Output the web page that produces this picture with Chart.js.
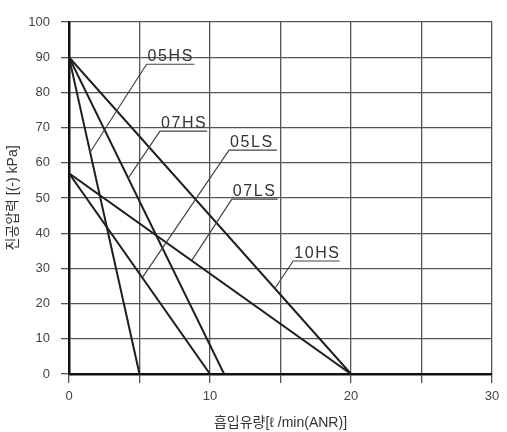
<!DOCTYPE html>
<html>
<head>
<meta charset="utf-8">
<script src="https://cdn.jsdelivr.net/npm/chart.js@4/dist/chart.umd.min.js"></script>
<style>
  html, body { margin: 0; padding: 0; background: #fff; }
  #wrap { width: 507px; height: 432px; }
</style>
</head>
<body>
<div id="wrap"><canvas id="chart"></canvas></div>
<script>
// series: each line runs from (0, maxVacuum) down to (maxFlow, 0)
const series = ["05HS", "07HS", "05LS", "07LS", "10HS"];
const maxVacuum = [90, 90, 57, 57, 90];
const maxFlow = [5, 11, 10, 20, 20];

const xTicks = [0, 10, 20, 30];
const yTicks = [0, 10, 20, 30, 40, 50, 60, 70, 80, 90, 100];

// callout labels (data units): underline start/end, height, and the x where the leader hits the line
const labelX = [5.5, 6.45, 11.35, 11.55, 15.9];
const labelEndX = [8.9, 9.8, 14.75, 14.8, 19.2];
const labelY = [88, 69, 63.6, 49.7, 32.1];
const pointerX = [1.5, 4.2, 5.2, 8.7, 14.6];

const FONT = "'Liberation Sans', 'Noto Sans CJK KR', sans-serif";

const datasets = series.map((name, i) => ({
    label: name,
    data: [{ x: 0, y: maxVacuum[i] }, { x: maxFlow[i], y: 0 }],
    showLine: true,
    borderColor: "#1e1e1e",
    borderWidth: 2,
    pointRadius: 0,
    fill: false
}));

const callouts = {
    id: "callouts",
    afterDatasetsDraw(chart) {
        const { ctx, scales } = chart;
        const xs = scales.x, ys = scales.y;
        ctx.save();
        series.forEach((name, i) => {
            const px = pointerX[i];
            const py = maxVacuum[i] * (1 - px / maxFlow[i]);
            const x1 = xs.getPixelForValue(labelX[i]);
            const x2 = xs.getPixelForValue(labelEndX[i]);
            const y1 = ys.getPixelForValue(labelY[i]);
            ctx.strokeStyle = "#444";
            ctx.lineWidth = 1.2;
            ctx.beginPath();
            ctx.moveTo(xs.getPixelForValue(px), ys.getPixelForValue(py));
            ctx.lineTo(x1, y1);
            ctx.lineTo(x2, y1);
            ctx.stroke();
            ctx.fillStyle = "#333";
            ctx.font = "16px " + FONT;
            ctx.letterSpacing = "1.6px";
            ctx.textAlign = "left";
            ctx.textBaseline = "alphabetic";
            ctx.fillText(name, x1 + 1, y1 - 3);
        });
        ctx.restore();
    }
};

new Chart(document.getElementById("chart"), {
    type: "scatter",
    data: { datasets },
    options: {
        responsive: true,
        maintainAspectRatio: false,
        animation: false,
        layout: { padding: { top: 22, right: 15, left: 0, bottom: 0 } },
        plugins: { legend: { display: false }, tooltip: { enabled: false } },
        scales: {
            x: {
                type: "linear",
                min: 0,
                max: 30,
                afterFit(scale) { scale.height = 58; },
                ticks: {
                    stepSize: 5,
                    color: "#444",
                    font: { family: FONT, size: 13 },
                    padding: 6,
                    maxRotation: 0,
                    callback: (v) => (xTicks.includes(v) ? v : "")
                },
                grid: { color: "#555", lineWidth: 1.3, tickLength: 9, tickColor: "#555" },
                border: { color: "#111", width: 2.5 },
                title: {
                    display: true,
                    text: "흡입유량[ℓ /min(ANR)]",
                    color: "#333",
                    font: { family: FONT, size: 14 },
                    padding: { top: 2, bottom: 0 }
                }
            },
            y: {
                type: "linear",
                min: 0,
                max: 100,
                afterFit(scale) { scale.width = 69; },
                afterBuildTicks(scale) { scale.ticks = yTicks.map((v) => ({ value: v })); },
                ticks: {
                    color: "#444",
                    font: { family: FONT, size: 13 },
                    padding: 11
                },
                grid: { color: "#555", lineWidth: 1.3, tickLength: 8, tickColor: "#555" },
                border: { color: "#111", width: 2.5 },
                title: {
                    display: true,
                    text: "진공압력 [(-) kPa]",
                    color: "#333",
                    font: { family: FONT, size: 14 },
                    padding: { top: 5, bottom: 4 }
                }
            }
        }
    },
    plugins: [callouts]
});
</script>
</body>
</html>
